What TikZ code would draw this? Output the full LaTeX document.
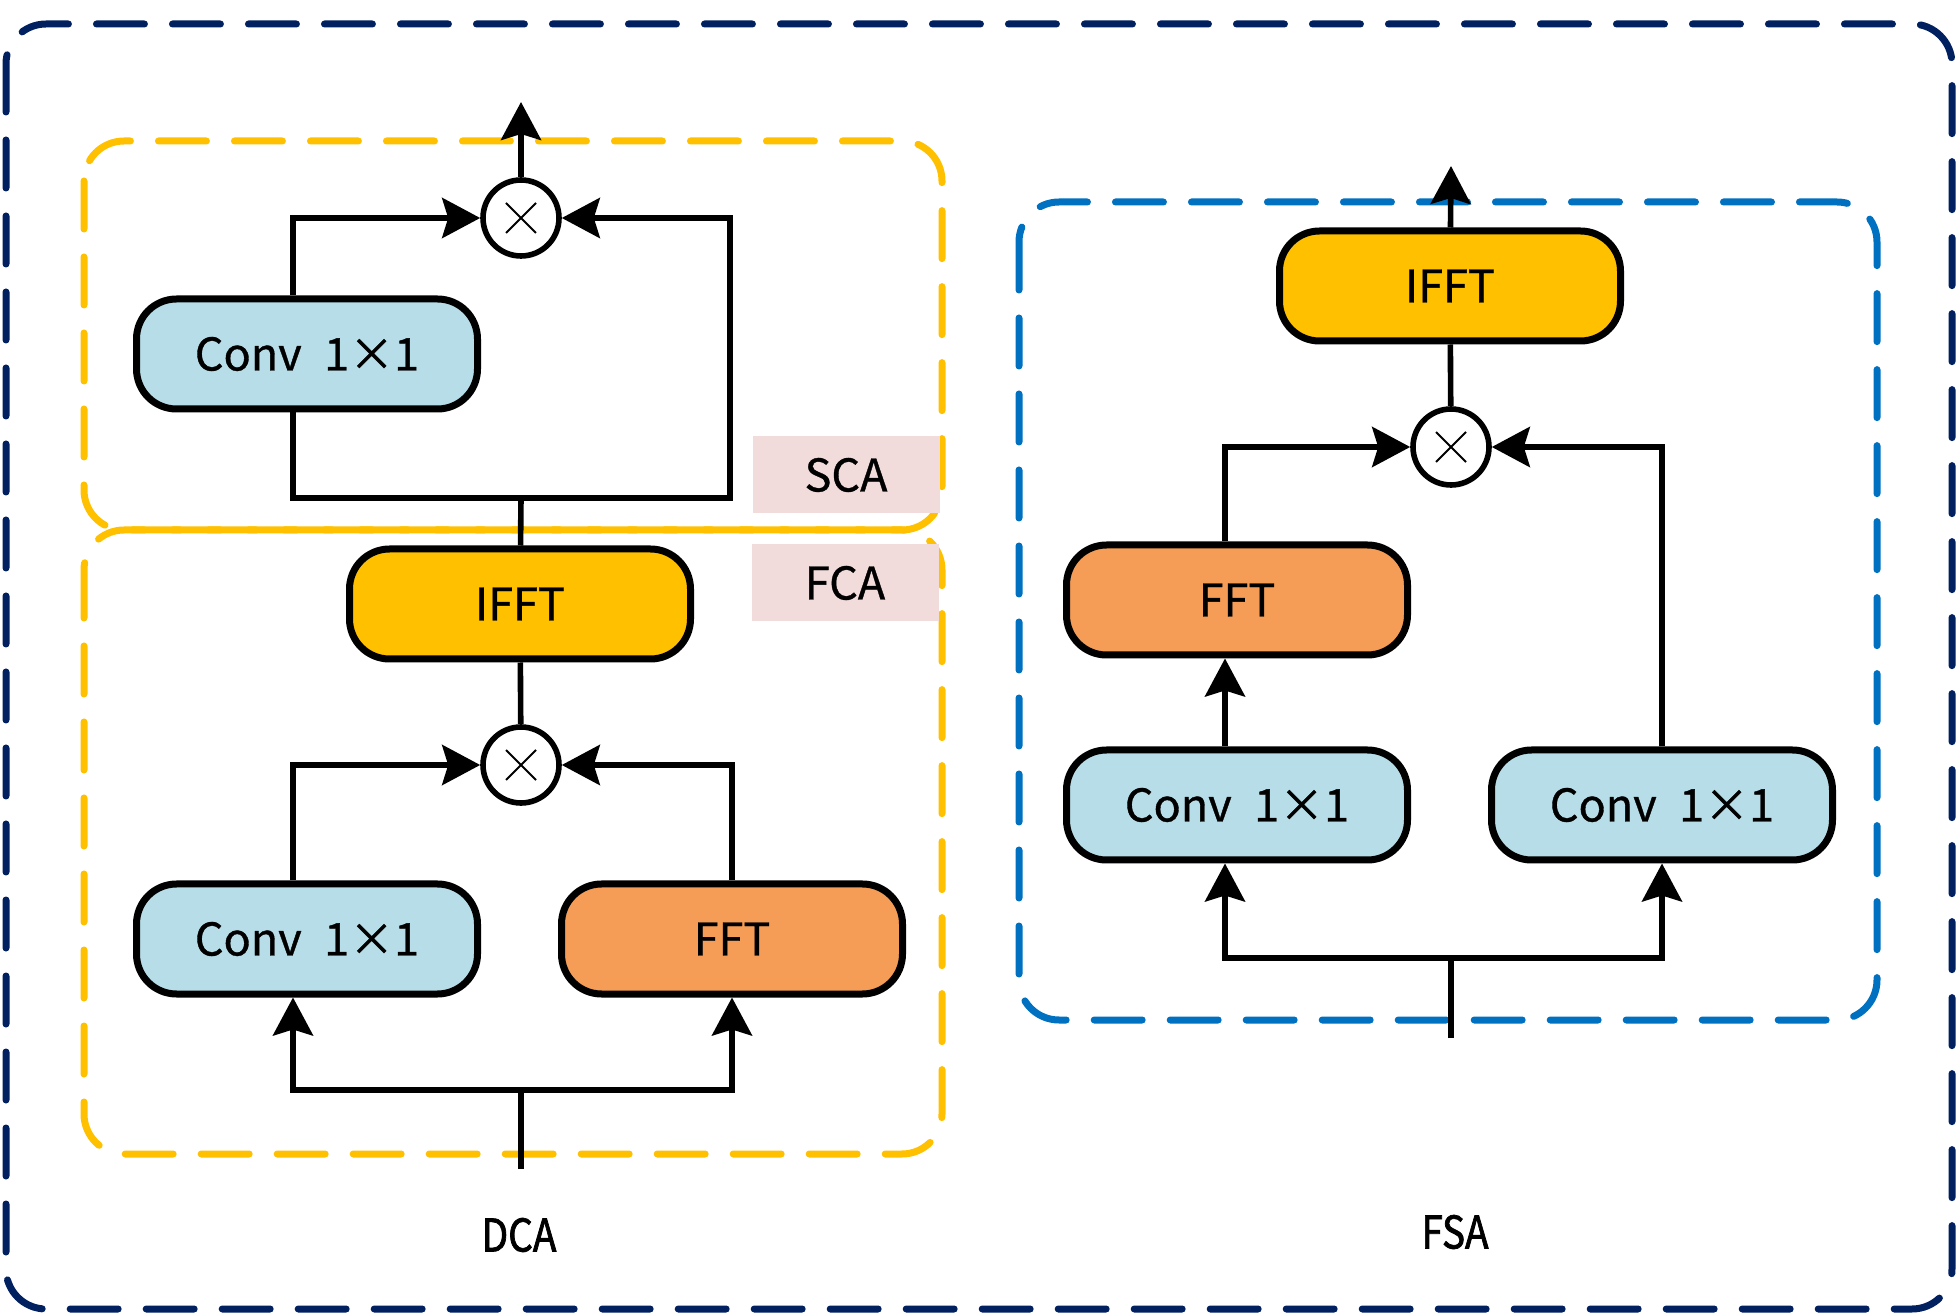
\documentclass[tikz,border=0pt]{standalone}
\usepackage{fontspec}
\setmainfont{Noto Sans CJK SC}[FakeBold=0.8]
\newfontfamily\capfont{Noto Sans CJK SC}[FakeStretch=0.86,FakeBold=1.6]
\usetikzlibrary{arrows.meta}

\definecolor{navy}{HTML}{002060}
\definecolor{gold}{HTML}{FFC000}
\definecolor{azure}{HTML}{0070C0}
\definecolor{convblue}{HTML}{B7DEE8}
\definecolor{fftorange}{HTML}{F59D56}
\definecolor{tagpink}{HTML}{F2DCDB}

\begin{document}
\begin{tikzpicture}[x=0.5pt,y=-0.5pt,font=\fontsize{22.5pt}{27pt}\selectfont,
  >={Stealth[length=19pt,width=20pt,inset=3pt]},
  frame/.style={line width=3.5pt,dash pattern=on 24pt off 14pt,line cap=round,rounded corners=20pt},
  blk/.style={draw,line width=3.5pt,rounded corners=20pt,minimum width=170.5pt,minimum height=55pt,inner sep=0pt},
  conv/.style={blk,fill=convblue},
  fft/.style={blk,fill=fftorange},
  ifft/.style={blk,fill=gold},
  mul/.style={circle,draw,line width=2.8pt,fill=white,minimum size=38pt,inner sep=0pt,
    path picture={\draw[line width=1pt]
      ([shift={(-7.5pt,-7.5pt)}]path picture bounding box.center) -- ++(15pt,15pt)
      ([shift={(-7.5pt,7.5pt)}]path picture bounding box.center) -- ++(15pt,-15pt);}},
  tag/.style={fill=tagpink,minimum width=93.5pt,minimum height=38.5pt,inner sep=0pt},
  title/.style={font=\fontsize{22.5pt}{27pt}\capfont},
  link/.style={line width=2.8pt},
  flow/.style={link,->}]
  \useasboundingbox (0,0) rectangle (1956,1315);

  \draw[frame,navy] (6,24) rectangle (1952,1309);
  \draw[frame,gold] (84,141) rectangle (942,530);
  \draw[frame,gold] (84,530) rectangle (942,1154);
  \draw[frame,azure] (1019,202) rectangle (1877,1020);

  \node[mul] (mA) at (521,218) {};
  \node[conv] (cA) at (307,354) {Conv\enspace 1×1};
  \node[tag] (sca) at (846,475) {SCA};
  \node[tag] (fca) at (845,583) {FCA};
  \node[ifft] (iA) at (520,604) {IFFT};
  \node[mul] (mB) at (521,765) {};
  \node[conv] (cB) at (307,939) {Conv\enspace 1×1};
  \node[fft] (fB) at (732,939) {FFT};
  \node[title] (dca) at (519,1235) {DCA};
  \coordinate (outA) at (521,102);
  \coordinate (jA) at (521,498);
  \coordinate (rA) at (730,218);
  \coordinate (inA) at (521,1169);
  \coordinate (splitA) at (521,1090);

  \draw[flow] (mA) -- (outA);
  \draw[flow] ([xshift=-7pt]cA.north) |- (mA);
  \draw[flow] ([xshift=-7pt]cA.south) |- (jA) -| (rA) -- (mA);
  \draw[link] (iA) -- (jA);
  \draw[link] (iA) -- (mB);
  \draw[flow] ([xshift=-7pt]cB.north) |- (mB);
  \draw[flow] (fB.north) |- (mB);
  \draw[link] (inA) -- (splitA);
  \draw[flow] (splitA) -| ([xshift=-7pt]cB.south);
  \draw[flow] (splitA) -| (fB.south);

  \node[ifft] (iF) at (1450,286) {IFFT};
  \node[mul] (mF) at (1451,447) {};
  \node[fft] (fF) at (1237,600) {FFT};
  \node[conv] (cF) at (1237,805) {Conv\enspace 1×1};
  \node[conv] (cG) at (1662,805) {Conv\enspace 1×1};
  \node[title] (fsa) at (1455,1232) {FSA};
  \coordinate (outF) at (1451,166);
  \coordinate (inF) at (1451,1038);
  \coordinate (splitF) at (1451,958);

  \draw[flow] (iF) -- (outF);
  \draw[link] (mF) -- (iF);
  \draw[flow] ([xshift=-6pt]fF.north) |- (mF);
  \draw[flow] (cG.north) |- (mF);
  \draw[flow] ([xshift=-6pt]cF.north) -- ([xshift=-6pt]fF.south);
  \draw[link] (inF) -- (splitF);
  \draw[flow] (splitF) -| ([xshift=-6pt]cF.south);
  \draw[flow] (splitF) -| (cG.south);
\end{tikzpicture}
\end{document}
